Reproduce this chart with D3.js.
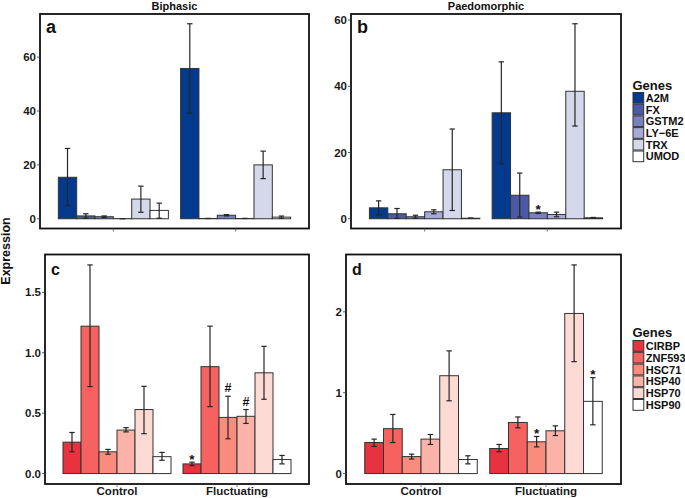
<!DOCTYPE html>
<html><head><meta charset="utf-8">
<script src="https://cdn.jsdelivr.net/npm/d3@7"></script>
<style>
body{margin:0;background:#fff;}
text{font-family:"Liberation Sans",Arial,Helvetica,sans-serif;font-weight:bold;}
</style></head>
<body><svg id="chart" width="685" height="498"></svg>
<script>
// ---------- DATA ----------
const groups = ["Control", "Fluctuating"];
const genesTop = ["A2M", "FX", "GSTM2", "LY\u22126E", "TRX", "UMOD"];
const genesBottom = ["CIRBP", "ZNF593", "HSC71", "HSP40", "HSP70", "HSP90"];
const colorsTop = ["#033a8e", "#4b59a6", "#7880bf", "#a6aad6", "#d5d7eb", "#ffffff"];
const colorsBottom = ["#e8323f", "#f5625f", "#f98c7d", "#fbb3a9", "#fddad3", "#ffffff"];

// Panel a (Biphasic): [group][gene]
const biphasicMean = [[15.4, 1.05, 0.75, 0.05, 7.3, 3.1], [55.8, 0.1, 1.3, 0.1, 20.0, 0.6]];
const biphasicLow  = [[4.9, 0.15, 0.45, 0.05, 2.4, 0.2], [39.2, 0.1, 1.05, 0.1, 14.9, 0.2]];
const biphasicHigh = [[26.1, 1.85, 1.05, 0.05, 12.1, 5.8], [72.4, 0.1, 1.55, 0.1, 25.1, 1.0]];

// Panel b (Paedomorphic)
const paedoMean = [[3.3, 1.5, 0.6, 2.1, 14.8, 0.15], [32.0, 7.1, 1.8, 1.3, 38.5, 0.3]];
const paedoLow  = [[1.2, 0.1, 0.15, 1.5, 2.5, 0.1], [16.6, 0.5, 1.6, 0.6, 28.0, 0.2]];
const paedoHigh = [[5.4, 3.1, 1.05, 2.7, 27.1, 0.2], [47.4, 13.8, 2.0, 2.0, 58.9, 0.4]];

// Panel c
const cMean = [[0.26, 1.22, 0.18, 0.36, 0.53, 0.14], [0.08, 0.885, 0.465, 0.474, 0.834, 0.116]];
const cLow  = [[0.18, 0.72, 0.16, 0.345, 0.33, 0.11], [0.066, 0.554, 0.288, 0.415, 0.615, 0.08]];
const cHigh = [[0.34, 1.727, 0.20, 0.38, 0.722, 0.175], [0.094, 1.22, 0.64, 0.53, 1.053, 0.15]];

// Panel d
const dMean = [[0.384, 0.555, 0.21, 0.426, 1.21, 0.174], [0.31, 0.632, 0.393, 0.529, 1.98, 0.893]];
const dLow  = [[0.335, 0.384, 0.18, 0.36, 0.90, 0.12], [0.27, 0.566, 0.33, 0.47, 1.384, 0.603]];
const dHigh = [[0.426, 0.731, 0.24, 0.483, 1.517, 0.22], [0.36, 0.70, 0.459, 0.59, 2.58, 1.186]];

const ticksA = [0, 20, 40, 60];
const ticksB = [0, 20, 40, 60];
const ticksC = [0.0, 0.5, 1.0, 1.5];
const ticksD = [0, 1, 2];

// annotations: [group index, gene index, symbol]
const annotB = [[1, 2, "*"]];
const annotC = [[1, 0, "*"], [1, 2, "#"], [1, 3, "#"]];
const annotD = [[1, 2, "*"], [1, 5, "*"]];

const titles = ["Biphasic", "Paedomorphic"];
const yLabel = "Expression";
const legendTitle = "Genes";

// ---------- DRAW ----------
const svg = d3.select("#chart");

function panel(cfg) {
  const {box, mean, low, high, colors, ticks, tickFmt, showX, letter, letterSize, annot} = cfg;
  const g = svg.append("g");
  const maxV = d3.max(high.flat());
  const pad = 0.05 * maxV;
  const y = d3.scaleLinear().domain([-pad, maxV + pad]).range([box.y1, box.y0]);
  const xc = d3.scaleLinear().domain([0.4, 2.6]).range([box.x0, box.x1]);
  const barW = 0.15;
  const data = [];
  mean.forEach((row, gi) => row.forEach((v, k) => {
    data.push({gi, k, v, lo: low[gi][k], hi: high[gi][k],
      xl: gi + 1 - 0.45 + k * barW});
  }));
  // bars
  g.selectAll("rect.bar").data(data).enter().append("rect")
    .attr("x", d => xc(d.xl))
    .attr("width", d => xc(d.xl + barW) - xc(d.xl))
    .attr("y", d => y(d.v))
    .attr("height", d => y(0) - y(d.v))
    .attr("fill", d => colors[d.k])
    .attr("stroke", "#333").attr("stroke-width", 1);
  // error bars
  const eb = g.selectAll("g.eb").data(data).enter().append("g")
    .attr("stroke", "#262626").attr("stroke-width", 1.2);
  eb.append("line").attr("x1", d => xc(d.xl + barW / 2)).attr("x2", d => xc(d.xl + barW / 2))
    .attr("y1", d => y(d.lo)).attr("y2", d => y(d.hi));
  ["lo", "hi"].forEach(key => {
    eb.append("line").attr("x1", d => xc(d.xl + barW / 2) - 2.7).attr("x2", d => xc(d.xl + barW / 2) + 2.7)
      .attr("y1", d => y(d[key])).attr("y2", d => y(d[key]));
  });
  // annotations
  (annot || []).forEach(([gi, k, s]) => {
    const xl = gi + 1 - 0.45 + k * barW;
    g.append("text").attr("x", xc(xl + barW / 2)).attr("y", y(high[gi][k]) - (s === "*" ? -1.5 : 4))
      .attr("text-anchor", "middle").attr("font-size", s === "*" ? 13.5 : 12.5).attr("fill", "#111").text(s);
  });
  // frame
  g.append("rect").attr("x", box.x0).attr("y", box.y0).attr("width", box.x1 - box.x0).attr("height", box.y1 - box.y0)
    .attr("fill", "none").attr("stroke", "#111").attr("stroke-width", 1.8);
  // y ticks
  ticks.forEach(t => {
    g.append("line").attr("x1", box.x0 - 3).attr("x2", box.x0).attr("y1", y(t)).attr("y2", y(t))
      .attr("stroke", "#333").attr("stroke-width", 0.8);
    g.append("text").attr("x", box.x0 - 4).attr("y", y(t)).attr("dy", "0.36em")
      .attr("text-anchor", "end").attr("font-size", 11.5).attr("fill", "#1a1a1a").text(tickFmt(t));
  });
  // x ticks
  groups.forEach((name, gi) => {
    g.append("line").attr("x1", xc(gi + 1)).attr("x2", xc(gi + 1)).attr("y1", box.y1).attr("y2", box.y1 + 3)
      .attr("stroke", "#555").attr("stroke-width", 0.8);
    if (showX) {
      g.append("text").attr("x", xc(gi + 1)).attr("y", box.y1 + 10.5).attr("text-anchor", "middle")
        .attr("font-size", 11.5).attr("fill", "#1a1a1a").text(name);
    }
  });
  // panel letter
  g.append("text").attr("x", box.x0 + 6).attr("y", box.y0 + (letterSize > 17 ? 19 : 20)).attr("font-size", letterSize)
    .attr("fill", "#111").text(letter);
}

panel({box: {x0: 40, x1: 309, y0: 14, y1: 228.5}, mean: biphasicMean, low: biphasicLow, high: biphasicHigh,
  colors: colorsTop, ticks: ticksA, tickFmt: d3.format("d"), showX: false, letter: "a", letterSize: 18});
panel({box: {x0: 351, x1: 621, y0: 14, y1: 228.5}, mean: paedoMean, low: paedoLow, high: paedoHigh,
  colors: colorsTop, ticks: ticksB, tickFmt: d3.format("d"), showX: false, letter: "b", letterSize: 18, annot: annotB});
panel({box: {x0: 45, x1: 309, y0: 254.5, y1: 484}, mean: cMean, low: cLow, high: cHigh,
  colors: colorsBottom, ticks: ticksC, tickFmt: d3.format(".1f"), showX: true, letter: "c", letterSize: 16, annot: annotC});
panel({box: {x0: 346, x1: 621, y0: 254.5, y1: 484}, mean: dMean, low: dLow, high: dHigh,
  colors: colorsBottom, ticks: ticksD, tickFmt: d3.format("d"), showX: true, letter: "d", letterSize: 16, annot: annotD});

// titles
svg.append("text").attr("x", 174.5).attr("y", 9.5).attr("text-anchor", "middle").attr("font-size", 11).attr("fill", "#111").text(titles[0]);
svg.append("text").attr("x", 486).attr("y", 9.5).attr("text-anchor", "middle").attr("font-size", 11).attr("fill", "#111").text(titles[1]);
// y label
svg.append("text").attr("transform", "translate(10,251) rotate(-90)").attr("text-anchor", "middle")
  .attr("font-size", 12.5).attr("fill", "#111").text(yLabel);

// legends
function legend(x, yTitle, yKeys, step, genes, colors) {
  const g = svg.append("g");
  g.append("text").attr("x", x).attr("y", yTitle).attr("font-size", 13).attr("fill", "#111").text(legendTitle);
  genes.forEach((name, i) => {
    g.append("rect").attr("x", x + 0.5).attr("y", yKeys + i * step + 0.5).attr("width", step - 1).attr("height", step - 1)
      .attr("fill", colors[i]).attr("stroke", "#333").attr("stroke-width", 1);
    g.append("text").attr("x", x + step + 1.5).attr("y", yKeys + i * step + step / 2).attr("dy", "0.37em")
      .attr("font-size", 11).attr("fill", "#111").text(name);
  });
}
legend(632.5, 89.5, 92, 11.7, genesTop, colorsTop);
legend(632.5, 336.5, 340, 11.8, genesBottom, colorsBottom);
</script></body></html>
